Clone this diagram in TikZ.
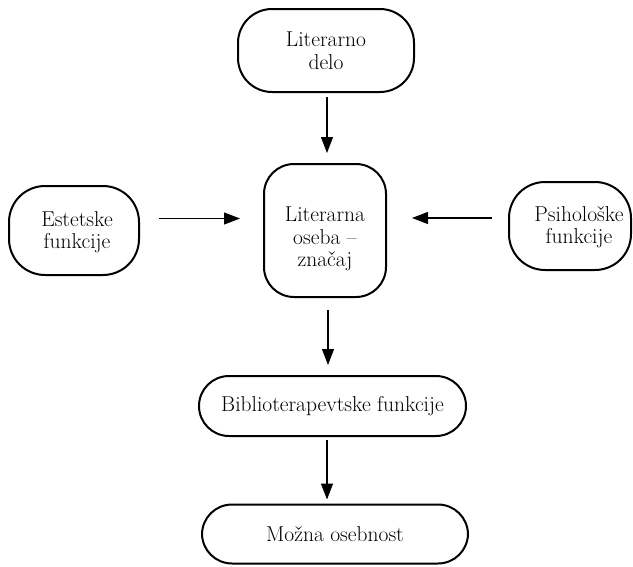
\documentclass[tikz,border=0pt]{standalone}
\usepackage{fontspec}
\setmainfont{Latin Modern Roman}
\usetikzlibrary{arrows.meta}
\begin{document}
\begin{tikzpicture}[x=1pt,y=-1pt,
  box/.style={draw=black, line width=2pt, align=center, inner sep=0pt,
    font=\fontsize{21.5}{22.5}\selectfont, text=black},
  txt/.style={align=center, inner sep=0pt, font=\fontsize{21.5}{22.5}\selectfont, text=black},
  arr/.style={line width=1.1pt, -{Triangle[length=16pt,width=12pt]}}]
\useasboundingbox (0,0) rectangle (633,566);
% nodes
\node[box, rounded corners=34pt, minimum width=176pt, minimum height=83pt] (delo) at (326,50.5) {Literarno\\delo};
\node[box, rounded corners=30pt, minimum width=122pt, minimum height=133pt] (oseba) at (325,230.5) {};
\node[txt] (osebaText) at (325,239) {Literarna\\oseba --\\značaj};
\node[box, rounded corners=36pt, minimum width=130pt, minimum height=89pt] (est) at (74,230.5) {};
\node[txt] (estText) at (77,232) {Estetske\\funkcije};
\node[box, rounded corners=36pt, minimum width=122pt, minimum height=88pt] (psi) at (570,226) {};
\node[txt] (psiText) at (579,227) {Psihološke\\funkcije};
\node[box, rounded corners=30pt, minimum width=267pt, minimum height=60pt] (bib) at (332.5,406) {Biblioterapevtske funkcije};
\node[box, rounded corners=30pt, minimum width=266pt, minimum height=59pt] (moz) at (335,534) {Možna osebnost};
% connectors
\draw[arr, shorten <=4pt, shorten >=10pt] (delo.south -| 327,0) -- (oseba.north -| 327,0);
\draw[arr, shorten <=19pt, shorten >=23pt] ([yshift=12pt]est.east) -- ([yshift=12pt]est.east -| oseba.west);
\draw[arr, shorten <=16pt, shorten >=25pt] ([yshift=8pt]psi.west) -- ([yshift=8pt]psi.west -| oseba.east);
\draw[arr, shorten <=12pt, shorten >=10pt] (oseba.south -| 328,0) -- (bib.north -| 328,0);
\draw[arr, shorten <=3pt, shorten >=4pt] (bib.south -| 327,0) -- (moz.north -| 327,0);
\end{tikzpicture}
\end{document}
